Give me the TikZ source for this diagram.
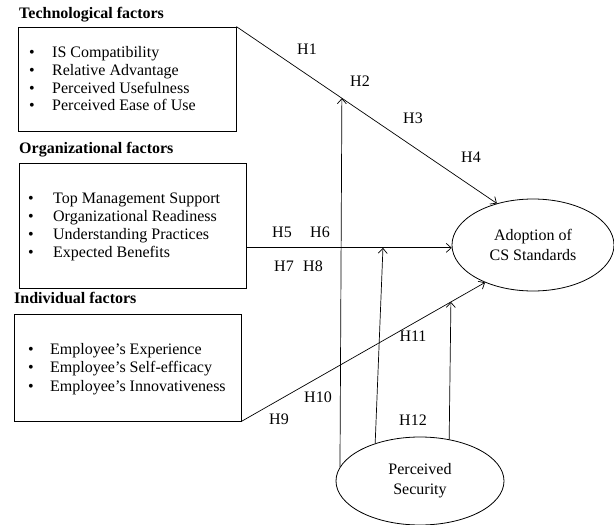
\documentclass[tikz,border=0pt]{standalone}
\usepackage{fontspec}
\setmainfont{Liberation Serif}
\usepackage{tikz}
\usetikzlibrary{shapes.geometric,arrows.meta}

\begin{document}
\begin{tikzpicture}[x=1pt,y=-1pt]
        \tikzstyle{every node}=[font=\fontsize{16}{20}\selectfont]
        \tikzstyle{factorbox}=[draw,line width=0.8pt,inner sep=0pt]
        \tikzstyle{factortitle}=[anchor=west,inner sep=0pt,text height=11pt,text depth=3.5pt,font=\fontsize{16}{20}\selectfont\bfseries]
        \tikzstyle{item}=[anchor=west,inner sep=0pt,text height=11pt,text depth=3.5pt]
        \tikzstyle{construct}=[draw,ellipse,line width=0.8pt,align=center,inner sep=0pt]
        \tikzstyle{hlabel}=[inner sep=0pt]
        \tikzstyle{link}=[-{Straight Barb[length=5pt,width=9pt]},line width=0.7pt]
        \useasboundingbox (0,0) rectangle (614,525);

            % factor boxes
            \node[factortitle] (techtitle) at (19,15) {Technological factors};
            \node[factorbox,minimum width=218,minimum height=104] (tech) at (127,79) {};
            \node[item] (tech1) at (29,53.5) {\makebox[23pt][l]{\textbullet}IS Compatibility};
            \node[item] (tech2) at (29,71.5) {\makebox[23pt][l]{\textbullet}Relative Advantage};
            \node[item] (tech3) at (29,89.5) {\makebox[23pt][l]{\textbullet}Perceived Usefulness};
            \node[item] (tech4) at (29,107) {\makebox[23pt][l]{\textbullet}Perceived Ease of Use};

            \node[factortitle] (orgtitle) at (19,150) {Organizational factors};
            \node[factorbox,minimum width=227,minimum height=125] (org) at (132.5,225.5) {};
            \node[item] (org1) at (28,200) {\makebox[25pt][l]{\textbullet}Top Management Support};
            \node[item] (org2) at (28,217.5) {\makebox[25pt][l]{\textbullet}Organizational Readiness};
            \node[item] (org3) at (28,236) {\makebox[25pt][l]{\textbullet}Understanding Practices};
            \node[item] (org4) at (28,254) {\makebox[25pt][l]{\textbullet}Expected Benefits};

            \node[factortitle] (indtitle) at (14,300) {Individual factors};
            \node[factorbox,minimum width=227,minimum height=107] (ind) at (127.5,367.5) {};
            \node[item] (ind1) at (28,351) {\makebox[22pt][l]{\textbullet}Employee's Experience};
            \node[item] (ind2) at (28,369) {\makebox[22pt][l]{\textbullet}Employee's Self-efficacy};
            \node[item] (ind3) at (28,387.5) {\makebox[22pt][l]{\textbullet}Employee's Innovativeness};

            % constructs
            \node[construct,minimum width=162,minimum height=92] (adopt) at (533,245) {Adoption of\\CS Standards};
            \node[construct,minimum width=168,minimum height=88] (ps) at (420,481) {Perceived\\Security};

            % paths
            \draw[link] (tech.north east) -- coordinate[pos=0.405] (t1) (adopt.131);
            \draw[link] (org.east |- adopt.182) -- coordinate[pos=0.665] (o1) (adopt.182);
            \draw[link] (ind.south east) -- coordinate[pos=0.86] (i1) (adopt.218);
            \draw[link] (ps.170) -- (t1);
            \draw[link] (ps.140) -- (o1);
            \draw[link] (ps.55) -- (i1);

            % hypotheses
            \node[hlabel] (h1) at (307,49) {H1};
            \node[hlabel] (h2) at (360,81) {H2};
            \node[hlabel] (h3) at (413,118) {H3};
            \node[hlabel] (h4) at (471,157) {H4};
            \node[hlabel] (h5) at (282,232) {H5};
            \node[hlabel] (h6) at (320,232) {H6};
            \node[hlabel] (h7) at (284,266) {H7};
            \node[hlabel] (h8) at (313,266) {H8};
            \node[hlabel] (h9) at (279,419) {H9};
            \node[hlabel] (h10) at (318,397) {H10};
            \node[hlabel] (h11) at (413,336) {H11};
            \node[hlabel] (h12) at (413,420) {H12};
        \end{tikzpicture}
\end{document}
